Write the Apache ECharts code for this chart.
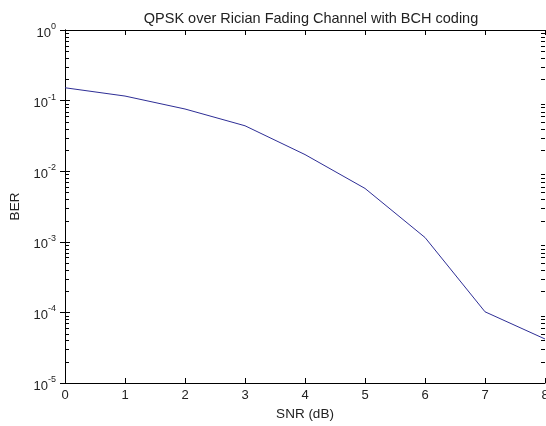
<!DOCTYPE html>
<html>
<head>
<meta charset="utf-8">
<script src="https://cdn.jsdelivr.net/npm/echarts@6/dist/echarts.min.js"></script>
<style>html,body{margin:0;padding:0;background:#fff}#c{width:546px;height:426px}</style>
</head>
<body>
<div id="c"></div>
<script>
var snr = [0, 1, 2, 3, 4, 5, 6, 7, 8];
var ber = [0.152, 0.116, 0.076, 0.044, 0.0172, 0.0057, 0.00115, 0.000102, 0.000042];
var xTicks = ['0', '1', '2', '3', '4', '5', '6', '7', '8'];
var decades = [1e-5, 1e-4, 1e-3, 1e-2, 1e-1];
var minorMult = [2, 3, 4, 5, 6, 7, 8, 9];
var titleText = 'QPSK over Rician Fading Channel with BCH coding';
var xName = 'SNR (dB)';
var yName = 'BER';

var minorVals = [];
decades.forEach(function (d) { minorMult.forEach(function (m) { minorVals.push([0, d * m]); }); });

var FONT = 'Liberation Sans';
var TXT = '#222';
var chart = echarts.init(document.getElementById('c'), null, {renderer: 'canvas'});
var lineStyle = {color: '#000', width: 1};
chart.setOption({
  animation: false,
  backgroundColor: '#fff',
  title: {
    text: titleText, left: 306, top: 6, textAlign: 'center',
    textStyle: {fontFamily: FONT, fontSize: 14.5, fontWeight: 'normal', color: TXT}
  },
  grid: {left: 65, right: 1, top: 30, bottom: 43, outerBoundsMode: 'none'},
  xAxis: [{
    type: 'value', min: 0, max: 8, interval: 1, position: 'bottom',
    name: xName, nameLocation: 'middle', nameGap: 21,
    nameTextStyle: {fontFamily: FONT, fontSize: 13.5, color: TXT},
    axisLine: {show: true, lineStyle: lineStyle},
    axisTick: {show: true, inside: true, length: 5, lineStyle: lineStyle},
    axisLabel: {fontFamily: FONT, fontSize: 13, color: TXT, margin: 6,
      formatter: function (v) { return xTicks[Math.round(v)]; }},
    splitLine: {show: false}
  }, {
    type: 'value', min: 0, max: 8, interval: 1, position: 'top',
    axisLine: {show: true, lineStyle: lineStyle},
    axisTick: {show: true, inside: true, length: 5, lineStyle: lineStyle},
    axisLabel: {show: false}, splitLine: {show: false}
  }],
  yAxis: [{
    type: 'log', logBase: 10, min: 1e-5, max: 1, position: 'left',
    name: yName, nameLocation: 'middle', nameGap: 41, nameRotate: 90,
    nameTextStyle: {fontFamily: FONT, fontSize: 13.5, color: TXT},
    axisLine: {show: true, lineStyle: lineStyle},
    axisTick: {show: true, inside: true, length: 5, lineStyle: lineStyle},
    axisLabel: {
      margin: 9, fontFamily: FONT, color: TXT,
      formatter: function (v) {
        var e = Math.round(Math.log10(v));
        return '{b|10}{s|' + e + '}';
      },
      rich: {
        b: {fontFamily: FONT, fontSize: 13, color: TXT, padding: [6, 0, 0, 0]},
        s: {fontFamily: FONT, fontSize: 9, color: TXT, padding: [0, 0, 7, 0]}
      }
    },
    splitLine: {show: false}
  }, {
    type: 'log', logBase: 10, min: 1e-5, max: 1, position: 'right',
    axisLine: {show: true, lineStyle: lineStyle},
    axisTick: {show: true, inside: true, length: 5, lineStyle: lineStyle},
    axisLabel: {show: false}, splitLine: {show: false}
  }],
  series: [{
    type: 'line', xAxisIndex: 0, yAxisIndex: 0,
    data: snr.map(function (x, i) { return [x, ber[i]]; }),
    showSymbol: false, symbol: 'none',
    lineStyle: {color: '#2e2e96', width: 1}
  }, {
    type: 'custom', xAxisIndex: 0, yAxisIndex: 0, clip: false, silent: true, z: 10,
    data: minorVals,
    renderItem: function (params, api) {
      var l = api.coord([0, api.value(1)]);
      var r = api.coord([8, api.value(1)]);
      var y = Math.round(l[1]) + 0.5;
      return {type: 'group', children: [
        {type: 'line', shape: {x1: l[0], y1: y, x2: l[0] + 4, y2: y}, style: {stroke: '#000', lineWidth: 1}},
        {type: 'line', shape: {x1: r[0], y1: y, x2: r[0] - 4, y2: y}, style: {stroke: '#000', lineWidth: 1}}
      ]};
    }
  }]
});
</script>
</body>
</html>
